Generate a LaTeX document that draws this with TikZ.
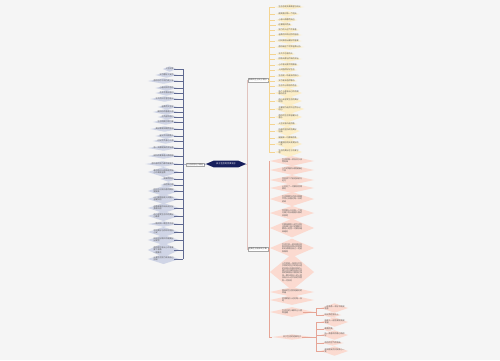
\documentclass[tikz,border=0pt]{standalone}
\usepackage{fontspec}
\setmainfont{Noto Sans CJK SC}
\usetikzlibrary{calc}
\pgfdeclarelayer{bg}
\pgfsetlayers{bg,main}
\definecolor{bgc}{RGB}{245,245,245}
\definecolor{navy}{RGB}{22,30,92}
\definecolor{lline}{RGB}{95,105,145}
\definecolor{lglow}{RGB}{208,213,230}
\definecolor{rline}{RGB}{225,195,190}
\definecolor{yline}{RGB}{244,212,145}
\definecolor{yglow}{RGB}{252,238,200}
\definecolor{pline}{RGB}{230,165,150}
\definecolor{pglow}{RGB}{251,218,208}
\definecolor{txt}{RGB}{85,85,85}
\tikzset{
  tinytext/.style={font=\fontsize{2}{2.4}\selectfont, text=txt, inner sep=0.3pt, align=left},
  branchbox/.style={draw=gray!70, fill=white, line width=0.3pt, font=\fontsize{2}{2.4}\selectfont, text=txt, inner sep=0.8pt},
  conn/.style={line width=0.35pt},
  bus/.style={line width=0.6pt},
}
\begin{document}
\begin{tikzpicture}[x=1pt,y=-1pt]
\begin{pgfonlayer}{bg}
\fill[bgc] (0,0) rectangle (500,360);
\end{pgfonlayer}
\useasboundingbox (0,0) rectangle (500,360);

% centre
\node[font=\fontsize{2.2}{2.6}\selectfont, text=white, inner sep=0.4pt, minimum width=40pt, minimum height=6.4pt] (C) at (226,164) {关于生活的优美句子};
\begin{pgfonlayer}{bg}
\fill[navy] (C.west) -- ([xshift=8pt]C.north west) -- ([xshift=-8pt]C.north east) -- (C.east) -- ([xshift=-8pt]C.south east) -- ([xshift=8pt]C.south west) -- cycle;
\end{pgfonlayer}

% ---------------- left branch
\node[branchbox] (L) at (195,164.5) {生活感悟句子精选};
\draw[lline, conn] (C.west) -- (L.east);
\coordinate (LB) at (183,164);
\draw[lline, conn] (L.west) -- (LB);
\foreach \y/\t in {
  69/{人生如梦},
  75/{岁月静好人安然},
  81/{愿你历尽千帆仍是少年},
  88/{心若向阳不悲伤},
  93/{花开花落自有时},
  99/{平凡的日子里也有光},
  107/{温柔而又坚定},
  112/{做快乐的普通人吧},
  117/{不负韶华前行},
  122/{生活明朗万物可爱},
  129/{美好都会如期而至呀},
  136/{星光不问赶路人},
  141/{时光不负有心人啊},
  148/{每一天都是新的开始哦},
  156/{保持热爱奔赴山海吧朋},
  164/{愿所有的努力都不被辜负},
  172/{晚风吹过山岗带走烦恼\\心中满是温柔},
  179/{简单而快乐},
  185/{自在随心啊},
  191/{把日子过成诗意的模样\\慢慢来},
  199/{山川湖海皆是人间烟火\\温暖如初},
  208/{前路漫漫亦灿灿无比好\\勇敢向前},
  216/{用心感受生活中的美好\\小确幸},
  224/{一路向阳一路生花不停},
  232/{世间美好与你环环相扣\\心安},
  240/{阳光正好微风不燥真好\\出发吧},
  250/{愿你眼中有光心中有爱\\脚下有路\\一路繁花},
  259/{认真生活努力成长自己\\加油}} {
  \node[tinytext, anchor=east] (l\y) at (174,\y) {\t};
  \begin{pgfonlayer}{bg}
  \fill[lglow] ($(l\y.center)!1.5!(l\y.west)$) -- ($(l\y.center)!1.9!(l\y.north)$) -- ($(l\y.center)!1.5!(l\y.east)$) -- ($(l\y.center)!1.9!(l\y.south)$) -- cycle;
  \end{pgfonlayer}
  \draw[lline, conn] (l\y.east) -- (LB |- l\y.east);
}
\draw[lline, bus] (LB |- l69.east) -- (LB |- l259.east);

% ---------------- right bus
\coordinate (RB) at (247,164);
\draw[rline, conn] (C.east) -- (RB);
\node[branchbox, anchor=west] (T) at (248,80) {唯美的生活句子摘抄};
\node[branchbox, anchor=west] (B) at (248,249) {经典生活语录句子集};
\draw[rline, conn] (RB |- T.west) -- (RB |- B.west);
\draw[rline, conn] (RB |- T.west) -- (T.west);
\draw[rline, conn] (RB |- B.west) -- (B.west);

% ---------------- top (yellow) branch
\coordinate (YB) at (269,80);
\draw[yline, conn] (T.east) -- (YB);
\foreach \y/\t in {
  7/{生活总是充满希望与阳光},
  14/{微笑面对每一个明天},
  20/{心有山海静而无边},
  25/{往事随风而去},
  30/{努力的人运气不会差},
  35/{温柔的风吹过你的窗前},
  41/{时间会给出最好的答案},
  47/{愿你被这个世界温柔以待},
  54/{平凡中也有伟大},
  59/{把每天都当作新的开始},
  65/{心中有光便不惧黑暗},
  70/{人间值得好好生活},
  76/{生活是一场漫长的修行},
  81/{岁月漫长值得等待},
  86/{生活不止眼前的苟且},
  93/{每个人都有自己的花期\\静待花开},
  101/{用心去感受生活的美好\\珍惜},
  109/{不要因为走得太远而忘记\\初心},
  117/{愿你的生活常温暖日子\\喜乐},
  124/{人生没有白走的路},
  131/{所有的坚持终将美好\\加油},
  138/{慢慢来一切都来得及},
  144/{你要相信明天会更好的\\一定},
  152/{生活的美好在于热爱它\\吧}} {
  \node[tinytext, anchor=west] (y\y) at (278,\y) {\t};
  \begin{pgfonlayer}{bg}
  \fill[yglow] ($(y\y.center)!1.3!(y\y.west)$) -- ($(y\y.center)!1.9!(y\y.north)$) -- ($(y\y.center)!1.3!(y\y.east)$) -- ($(y\y.center)!1.9!(y\y.south)$) -- cycle;
  \end{pgfonlayer}
  \draw[yline, conn] (YB |- y\y.west) -- ($(y\y.center)!1.3!(y\y.west)$);
}
\draw[yline, bus] (YB |- y7.west) -- (YB |- y152.west);

% ---------------- bottom (pink) branch
\coordinate (PB) at (269,249);
\draw[pline, conn] (B.east) -- (PB);
\foreach \y/\t in {
  161/{生活就像一杯白开水淡\\而有味},
  170/{人生的路很长要慢慢走\\下去},
  180/{学会放下才能轻装前行\\远方},
  188/{心态好了一切都会变得\\美好},
  199/{生活需要仪式感也需要\\平常心去面对每一天的\\琐碎},
  213/{世界那么大总有一个地\\方属于你去看看外面的\\风景吧},
  228/{不要羡慕别人的生活你\\也有属于自己的精彩只\\要用心经营一切都会越\\来越好},
  248/{生活不会一帆风顺总会\\有风雨但风雨过后就是\\彩虹请相信自己一定能\\够做到},
  272/{人生就是一场旅行不在\\乎目的地在乎的是沿途\\的风景以及看风景的心\\情生活中难免会有不如\\意的事情但只要我们保\\持一颗乐观向上的心就\\没有什么过不去的坎愿\\你一切安好},
  292/{简单的生活就是最好的\\幸福},
  300/{珍惜眼前人过好每一天\\吧},
  312/{生活中的小确幸让人感\\到温暖},
  337/{关于生活的经典句子}} {
  \node[tinytext, anchor=center] (p\y) at (292,\y) {\t};
  \begin{pgfonlayer}{bg}
  \fill[pglow] ($(p\y.center)!2.1!(p\y.west)$) -- ($(p\y.center)!1.85!(p\y.north)$) -- ($(p\y.center)!2.1!(p\y.east)$) -- ($(p\y.center)!1.85!(p\y.south)$) -- cycle;
  \end{pgfonlayer}
  \draw[pline, conn] (PB |- p\y.center) -- ($(p\y.center)!2.1!(p\y.west)$);
}
\draw[pline, bus] (PB |- p161.center) -- (PB |- p337.center);

% ---------------- sub branches
\coordinate (SB) at (316,312);
\draw[pline, conn] (p312.east) -- (SB |- p312.east);
\draw[pline, conn] (p337.east) -- (SB |- p337.east);
\foreach \y/\t in {
  308/{一杯清茶一本好书就是\\惬意},
  315/{阳光洒在窗台上},
  322/{和家人一起吃顿饭就是\\幸福},
  329/{晚霞很美},
  335/{听一首喜欢的歌心情很\\好},
  343/{雨后的空气很清新},
  351/{收到朋友的问候会心一\\笑}} {
  \node[tinytext, anchor=west] (s\y) at (324,\y) {\t};
  \begin{pgfonlayer}{bg}
  \fill[pglow] ($(s\y.center)!1.3!(s\y.west)$) -- ($(s\y.center)!1.8!(s\y.north)$) -- ($(s\y.center)!1.3!(s\y.east)$) -- ($(s\y.center)!1.8!(s\y.south)$) -- cycle;
  \end{pgfonlayer}
  \draw[pline, conn] (SB |- s\y.west) -- (s\y.west);
}
\draw[pline, bus] (SB |- s308.west) -- (SB |- s315.west);
\draw[pline, bus] (SB |- s322.west) -- (SB |- s351.west);
\end{tikzpicture}
\end{document}
